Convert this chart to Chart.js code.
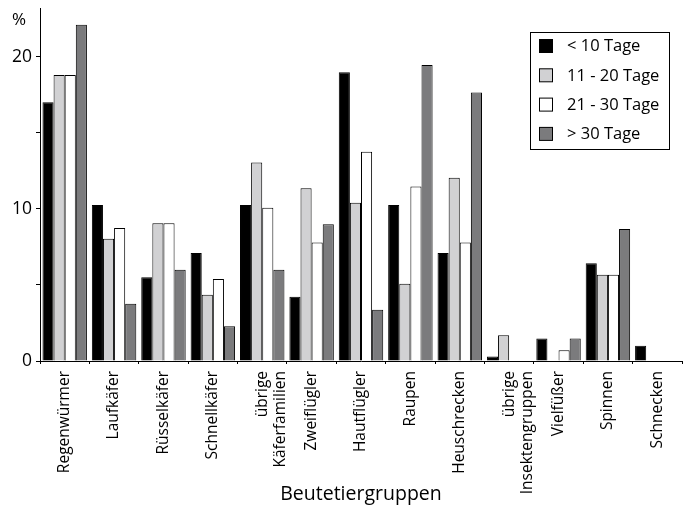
<!DOCTYPE html>
<html><head><meta charset="utf-8">
<script src="https://cdn.jsdelivr.net/npm/chart.js@4.4.0/dist/chart.umd.min.js"></script>
<style>html,body{margin:0;padding:0;background:#fff}#wrap{width:685px;height:507px}</style>
</head><body><div id="wrap"><canvas id="c" width="685" height="507"></canvas></div>
<script>
const categories = [
  "Regenwürmer", "Laufkäfer", "Rüsselkäfer", "Schnellkäfer", ["übrige", "Käferfamilien"],
  "Zweiflügler", "Hautflügler", "Raupen", "Heuschrecken", ["übrige", "Insektengruppen"],
  "Vielfüßer", "Spinnen", "Schnecken"
];
const seriesLabels = ["< 10 Tage", "11 - 20 Tage", "21 - 30 Tage", "> 30 Tage"];
const s1 = [17.0, 10.25, 5.5, 7.1, 10.25, 4.23, 18.97, 10.25, 7.1, 0.3, 1.48, 6.42, 1.0];
const s2 = [18.8, 8.04, 9.05, 4.36, 13.05, 11.35, 10.4, 5.08, 12.05, 1.7, 0, 5.67, 0];
const s3 = [18.8, 8.74, 9.05, 5.39, 10.07, 7.78, 13.75, 11.47, 7.78, 0, 0.7, 5.67, 0];
const s4 = [22.1, 3.77, 6.0, 2.28, 6.0, 8.98, 3.37, 19.45, 17.65, 0, 1.48, 8.67, 0];
const yTickLabels = [0, 10, 20];
const colors = ["#000000", "#d1d1d3", "#ffffff", "#7b7b7d"];
const FONT = "'Open Sans', sans-serif";

const legendPlugin = {
  id: 'boxLegend',
  afterDraw(chart) {
    const ctx = chart.ctx;
    ctx.save();
    const x = 530.5, y = 32.5, w = 139, h = 117;
    ctx.lineWidth = 1; ctx.strokeStyle = '#000'; ctx.fillStyle = '#fff';
    ctx.fillRect(x, y, w, h); ctx.strokeRect(x, y, w, h);
    ctx.font = "16.5px " + FONT; ctx.textBaseline = 'middle'; ctx.textAlign = 'left';
    chart.data.datasets.forEach((ds, i) => {
      const cy = 46.5 + i * 29.3;
      ctx.fillStyle = ds.backgroundColor;
      ctx.fillRect(539.5, cy - 7, 13, 13);
      ctx.strokeStyle = '#000';
      ctx.strokeRect(539.5, cy - 7, 13, 13);
      ctx.fillStyle = '#000';
      ctx.fillText(ds.label, 567, cy);
    });
    ctx.font = "17px " + FONT; ctx.textAlign = 'center';
    ctx.fillText('%', 19, 20);
    ctx.restore();
  }
};

new Chart(document.getElementById('c'), {
  type: 'bar',
  data: {
    labels: categories,
    datasets: [s1, s2, s3, s4].map((d, i) => ({
      label: seriesLabels[i], data: d, backgroundColor: colors[i],
      borderColor: '#000', borderWidth: 1, borderSkipped: 'bottom',
      categoryPercentage: 0.9, barPercentage: 1.0
    }))
  },
  options: {
    responsive: false, animation: false, devicePixelRatio: 1,
    layout: { padding: { left: 0, right: 3, top: 8, bottom: 0 } },
    plugins: { legend: { display: false }, tooltip: { enabled: false } },
    scales: {
      x: {
        grid: { display: true, drawOnChartArea: false, drawTicks: true, tickLength: 3, color: '#000', offset: true },
        border: { display: true, color: '#000', width: 1 },
        ticks: { color: '#000', font: { family: FONT, size: 15.5 }, minRotation: 90, maxRotation: 90, autoSkip: false, padding: 7 },
        title: { display: true, text: 'Beutetiergruppen', color: '#000', font: { family: FONT, size: 19.5 }, padding: { top: 0, bottom: 1 } },
        afterFit(scale) { scale.height = 146; scale.paddingLeft = 0; scale.paddingRight = 0; }
      },
      y: {
        min: 0, max: 23.2,
        afterBuildTicks(scale) { scale.ticks = [0, 5, 10, 15, 20].map(v => ({ value: v })); },
        grid: { display: true, drawOnChartArea: false, drawTicks: true, tickLength: 4, color: '#000' },
        border: { display: true, color: '#000', width: 1 },
        ticks: {
          color: '#000', font: { family: FONT, size: 17.5 }, padding: 4,
          callback: (v) => yTickLabels.includes(v) ? String(v) : ''
        },
        afterFit(scale) { scale.width = 40; scale.paddingTop = 0; scale.paddingBottom = 0; }
      }
    }
  },
  plugins: [legendPlugin]
});
</script></body></html>
